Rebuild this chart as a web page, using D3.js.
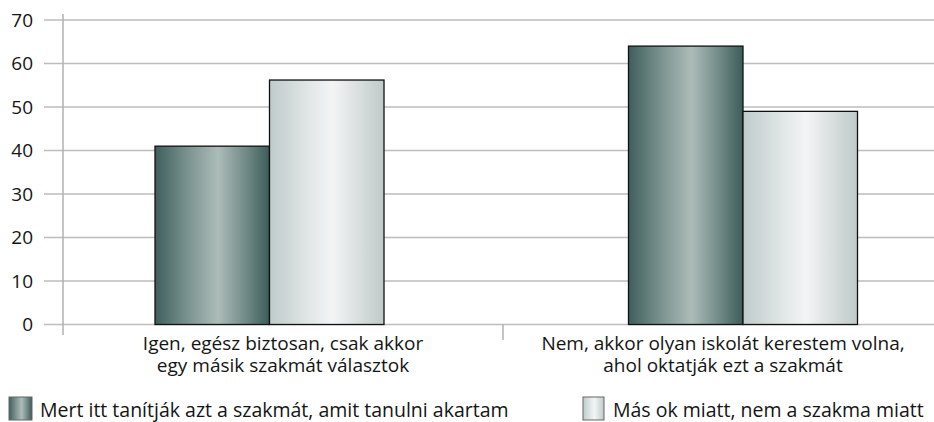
<!DOCTYPE html>
<html lang="hu">
<head>
<meta charset="UTF-8">
<title>Szakmaválasztás</title>
<script src="https://cdn.jsdelivr.net/npm/d3@7"></script>
<style>
    body { margin: 0; background: #fff; }
    svg { display: block; }
    text { font-family: "Open Sans", "Noto Sans", sans-serif; fill: #151515; }
</style>
</head>
<body>
<svg id="chart" width="934" height="422"></svg>
<script>
    const categories = [
        ['Igen, egész biztosan, csak akkor', 'egy másik szakmát választok'],
        ['Nem, akkor olyan iskolát kerestem volna,', 'ahol oktatják ezt a szakmát']
    ];
    const seriesNames = [
        'Mert itt tanítják azt a szakmát, amit tanulni akartam',
        'Más ok miatt, nem a szakma miatt'
    ];
    const valuesDark = [41, 64];
    const valuesLight = [56.2, 49];
    const yTicks = [0, 10, 20, 30, 40, 50, 60, 70];

    const svg = d3.select('#chart');
    const W = 934;
    const plotLeft = 63, plotRight = 943, plotTop = 20, plotBottom = 324.5;

    const keys = categories.map(c => c.join(' '));

    const y = d3.scaleLinear().domain([0, 70]).range([plotBottom, plotTop]);
    const x = d3.scaleBand().domain(keys).range([plotLeft, plotRight]);
    // bar groups sit a bit off the band centres in the original
    const xc = d3.scalePoint().domain(keys).range([269.5, 743]);
    const barW = 114.5;

    const defs = svg.append('defs');
    function grad(id, stops) {
        const g = defs.append('linearGradient').attr('id', id)
            .attr('x1', '0%').attr('x2', '100%').attr('y1', '0%').attr('y2', '0%');
        stops.forEach(s => g.append('stop').attr('offset', s[0]).attr('stop-color', s[1]));
    }
    grad('gDark', [[0, '#3f5f5c'], [0.3, '#7d9592'], [0.55, '#adbcb9'], [0.8, '#6f8986'], [1, '#3d5c59']]);
    grad('gLight', [[0, '#bfcbca'], [0.3, '#dde3e3'], [0.55, '#f3f5f5'], [0.8, '#d6dddc'], [1, '#bfcac9']]);

    // gridlines
    svg.append('g').selectAll('line')
        .data(yTicks)
        .join('line')
        .attr('x1', 44).attr('x2', W)
        .attr('y1', d => y(d)).attr('y2', d => y(d))
        .attr('stroke', '#bdbdbd').attr('stroke-width', 1.5);

    // y axis line
    svg.append('line')
        .attr('x1', plotLeft).attr('x2', plotLeft)
        .attr('y1', 14).attr('y2', 335)
        .attr('stroke', '#b0b0b0').attr('stroke-width', 1.5);

    // middle category tick
    svg.append('line')
        .attr('x1', x(keys[1])).attr('x2', x(keys[1]))
        .attr('y1', plotBottom).attr('y2', 340)
        .attr('stroke', '#b0b0b0').attr('stroke-width', 1.5);

    svg.append('g').selectAll('text')
        .data(yTicks)
        .join('text')
        .attr('x', 33).attr('y', d => y(d))
        .attr('dy', '0.36em')
        .attr('text-anchor', 'end')
        .attr('font-size', 19)
        .text(d => d);

    const bars = svg.append('g');
    bars.selectAll('.dark')
        .data(keys)
        .join('rect')
        .attr('class', 'dark')
        .attr('x', d => xc(d) - barW)
        .attr('width', barW)
        .attr('y', (d, i) => y(valuesDark[i]))
        .attr('height', (d, i) => y(0) - y(valuesDark[i]))
        .attr('fill', 'url(#gDark)')
        .attr('stroke', '#111').attr('stroke-width', 1.3);
    bars.selectAll('.light')
        .data(keys)
        .join('rect')
        .attr('class', 'light')
        .attr('x', d => xc(d))
        .attr('width', barW)
        .attr('y', (d, i) => y(valuesLight[i]))
        .attr('height', (d, i) => y(0) - y(valuesLight[i]))
        .attr('fill', 'url(#gLight)')
        .attr('stroke', '#111').attr('stroke-width', 1.3);

    // category labels
    const lab = svg.append('g').selectAll('text')
        .data(categories)
        .join('text')
        .attr('text-anchor', 'middle')
        .attr('font-size', 19);
    lab.each(function (d, i) {
        const t = d3.select(this);
        d.forEach((line, j) => {
            t.append('tspan')
                .attr('x', x(keys[i]) + x.bandwidth() / 2)
                .attr('y', 349.5 + j * 22.5)
                .text(line);
        });
    });

    // legend
    const legX = [9, 583];
    const legend = svg.append('g').selectAll('g')
        .data(seriesNames)
        .join('g')
        .attr('transform', (d, i) => `translate(${legX[i]},397)`);
    legend.append('rect')
        .attr('width', (d, i) => i === 0 ? 23 : 21)
        .attr('height', 23)
        .attr('fill', (d, i) => i === 0 ? 'url(#gDark)' : 'url(#gLight)')
        .attr('stroke', '#666').attr('stroke-width', 1);
    legend.append('text')
        .attr('x', (d, i) => i === 0 ? 31 : 30)
        .attr('y', 20)
        .attr('font-size', 19.5)
        .text(d => d);
</script>
</body>
</html>
